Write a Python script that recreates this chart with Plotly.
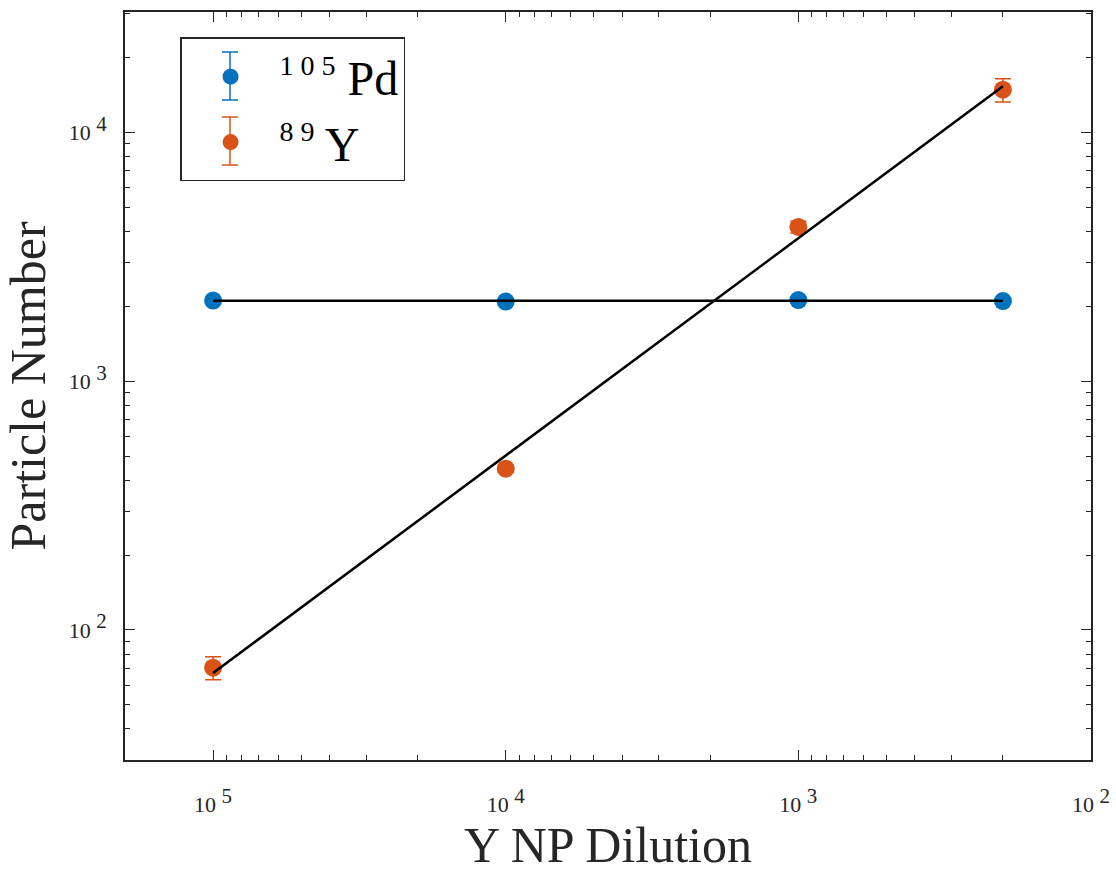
import numpy as np
import plotly.graph_objects as go

# Data
dilution = [1e5, 1e4, 1e3, 200]
pd105 = [2110, 2090, 2120, 2100]
pd105_err = [20, 20, 30, 20]
y89 = [70.5, 445, 4170, 14860]
y89_err = [7.5, 15, 230, 1600]

SUP = "<sup><span style='font-size:21px'>{}</span></sup>"
LSUP = "<sup><span style='font-size:28px'>{}</span></sup>"
x_tickvals = [1e5, 1e4, 1e3, 1e2]
x_ticktext = ["10 " + SUP.format(e) for e in ["5", "4", "3", "2"]]
y_tickvals = [1e2, 1e3, 1e4]
y_ticktext = ["10 " + SUP.format(e) for e in ["2", "3", "4"]]
x_minor = [m * 10 ** d for d in range(2, 6) for m in range(2, 10) if m * 10 ** d < 2.1e5]
y_minor = [m * 10 ** d for d in range(1, 5) for m in range(2, 10) if 29 < m * 10 ** d < 31000]

BLUE = "#0072BD"
ORANGE = "#D95319"
AX = "#262626"
FONT = "Liberation Serif, Times New Roman, serif"

# log-log least-squares fits
lx = np.log10(dilution)
def fit(vals):
    s, b = np.polyfit(lx, np.log10(vals), 1)
    return [10 ** (s * v + b) for v in lx]

fig = go.Figure()
fig.add_trace(go.Scatter(
    x=dilution, y=pd105, mode="markers", name=LSUP.format("1 0 5") + " Pd",
    marker=dict(color=BLUE, size=18),
    error_y=dict(type="data", array=pd105_err, color=BLUE, thickness=1.5, width=8),
))
fig.add_trace(go.Scatter(
    x=dilution, y=y89, mode="markers", name=LSUP.format("8 9") + " Y",
    marker=dict(color=ORANGE, size=18),
    error_y=dict(type="data", array=y89_err, color=ORANGE, thickness=1.5, width=8),
))
fig.add_trace(go.Scatter(x=dilution, y=fit(pd105), mode="lines",
                         line=dict(color="black", width=2.5), showlegend=False))
fig.add_trace(go.Scatter(x=dilution, y=fit(y89), mode="lines",
                         line=dict(color="black", width=2.5), showlegend=False))

def axis_common(minor_vals):
    return dict(
        showline=True, linecolor=AX, linewidth=1.5, mirror="ticks",
        ticks="inside", ticklen=10, tickcolor=AX, tickwidth=1.2,
        showgrid=False, zeroline=False, automargin=False,
        tickfont=dict(family=FONT, size=22, color=AX),
        minor=dict(tickmode="array", tickvals=minor_vals, ticks="inside", ticklen=5,
                   tickcolor=AX, tickwidth=1, showgrid=False),
    )

fig.update_xaxes(type="log", range=[np.log10(2e5), 2], tickmode="array",
                 tickvals=x_tickvals, ticktext=x_ticktext, ticklabelstandoff=24,
                 title=dict(text="Y NP Dilution", font=dict(family=FONT, size=50, color=AX),
                            standoff=24),
                 **axis_common(x_minor))
fig.update_yaxes(type="log", range=[np.log10(30), np.log10(30500)], tickmode="array",
                 tickvals=y_tickvals, ticktext=y_ticktext, ticklabelstandoff=12,
                 title=dict(text="Particle Number", font=dict(family=FONT, size=50, color=AX),
                            standoff=10),
                 **axis_common(y_minor))

# error-bar glyphs behind the legend markers (legend decoration, paper coords)
W, H = 966.0, 748.0  # plot area in px
def px(xp):
    return (xp - 125) / W
def py(yp):
    return (760 - yp) / H
for color, yc in [(BLUE, 76), (ORANGE, 141)]:
    lw = dict(color=color, width=1.5)
    fig.add_shape(type="line", xref="paper", yref="paper",
                  x0=px(230), x1=px(230), y0=py(yc - 24), y1=py(yc + 24), line=lw)
    for yy in (yc - 24, yc + 24):
        fig.add_shape(type="line", xref="paper", yref="paper",
                      x0=px(222), x1=px(238), y0=py(yy), y1=py(yy), line=lw)

fig.update_layout(
    width=1116, height=873,
    margin=dict(l=125, r=25, t=12, b=113),
    plot_bgcolor="white", paper_bgcolor="white",
    font=dict(family=FONT, color="black"),
    legend=dict(x=0.057, y=0.966, xanchor="left", yanchor="top",
                bordercolor=AX, borderwidth=1.5, bgcolor="rgba(0,0,0,0)",
                font=dict(family=FONT, size=48, color="black"),
                itemwidth=88, tracegroupgap=0),
)

fig.write_html("out.html", config={"displayModeBar": False},
               post_script="document.body.style.margin='0';")
